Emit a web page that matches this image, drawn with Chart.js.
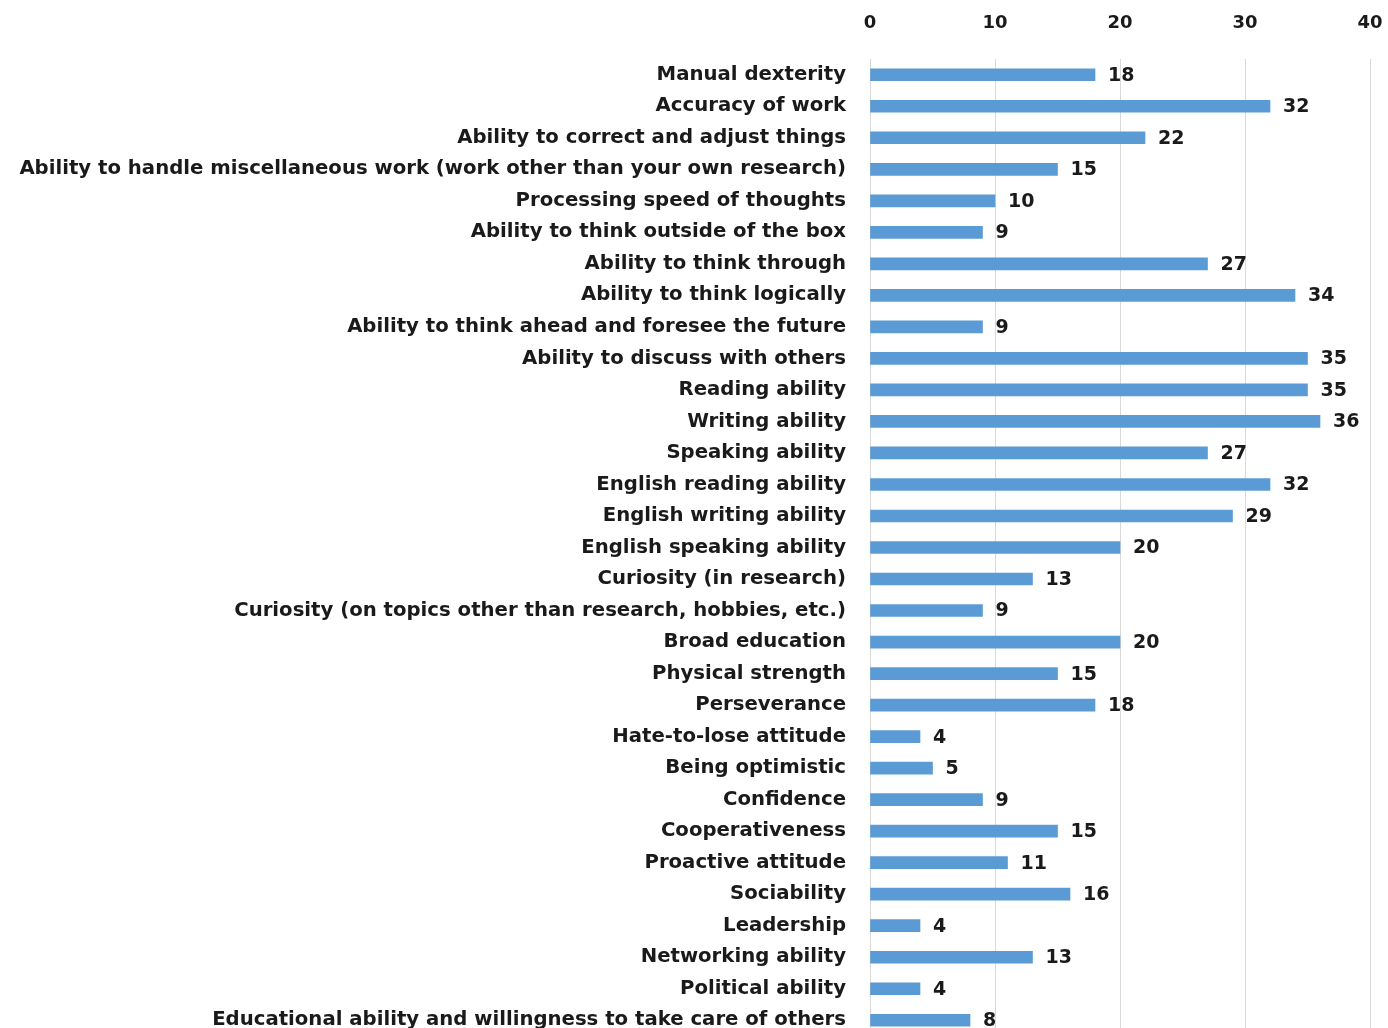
<!DOCTYPE html>
<html>
<head>
<meta charset="utf-8">
<script src="https://cdn.jsdelivr.net/npm/chart.js@4/dist/chart.umd.min.js"></script>
<style>
html,body{margin:0;padding:0;background:#fff;overflow:hidden;}
#wrap{position:relative;width:1388px;height:1042px;}
</style>
</head>
<body>
<div id="wrap"><canvas id="c" width="1388" height="1042"></canvas></div>
<script>
const categories = [
  "Manual dexterity",
  "Accuracy of work",
  "Ability to correct and adjust things",
  "Ability to handle miscellaneous work (work other than your own research)",
  "Processing speed of thoughts",
  "Ability to think outside of the box",
  "Ability to think through",
  "Ability to think logically",
  "Ability to think ahead and foresee the future",
  "Ability to discuss with others",
  "Reading ability",
  "Writing ability",
  "Speaking ability",
  "English reading ability",
  "English writing ability",
  "English speaking ability",
  "Curiosity (in research)",
  "Curiosity (on topics other than research, hobbies, etc.)",
  "Broad education",
  "Physical strength",
  "Perseverance",
  "Hate-to-lose attitude",
  "Being optimistic",
  "Confidence",
  "Cooperativeness",
  "Proactive attitude",
  "Sociability",
  "Leadership",
  "Networking ability",
  "Political ability",
  "Educational ability and willingness to take care of others"
];
const values = [18,32,22,15,10,9,27,34,9,35,35,36,27,32,29,20,13,9,20,15,18,4,5,9,15,11,16,4,13,4,8];
const xTicks = [0,10,20,30,40];

const FONT = "'DejaVu Sans', Verdana, sans-serif";

const valueLabels = {
  id: 'valueLabels',
  afterDatasetsDraw(chart) {
    const ctx = chart.ctx;
    const meta = chart.getDatasetMeta(0);
    ctx.save();
    ctx.font = "bold 19px " + FONT;
    ctx.fillStyle = "#1a1a1a";
    ctx.textAlign = "left";
    ctx.textBaseline = "middle";
    meta.data.forEach((bar, i) => {
      ctx.fillText(String(values[i]), bar.x + 13, bar.y + 1);
    });
    ctx.restore();
  }
};

new Chart(document.getElementById('c'), {
  type: 'bar',
  data: {
    labels: categories,
    datasets: [{
      data: values,
      backgroundColor: '#5B9BD5',
      borderColor: '#5B9BD5',
      borderWidth: 0,
      barThickness: 12
    }]
  },
  options: {
    indexAxis: 'y',
    responsive: false,
    animation: false,
    events: [],
    layout: { padding: { left: 0, right: 18, top: 0, bottom: 6 } },
    plugins: { legend: { display: false }, tooltip: { enabled: false } },
    scales: {
      x: {
        position: 'top',
        min: 0, max: 40,
        afterBuildTicks(scale) { scale.ticks = xTicks.map(v => ({ value: v })); },
        afterFit(scale) {
          scale.height = 59;
          scale.paddingLeft = 0; scale.paddingRight = 0;
          scale.paddingTop = 0; scale.paddingBottom = 0;
        },
        ticks: {
          font: { family: FONT, size: 18, weight: 'bold' },
          color: '#1a1a1a',
          padding: 25,
          maxRotation: 0
        },
        grid: { color: '#d9d9d9', lineWidth: 1, drawTicks: false },
        border: { display: false }
      },
      y: {
        afterFit(scale) {
          scale.width = 870;
          scale.paddingLeft = 0; scale.paddingRight = 0;
          scale.paddingTop = 0; scale.paddingBottom = 0;
        },
        ticks: {
          font: { family: FONT, size: 19.7, weight: 'bold' },
          color: '#1a1a1a',
          padding: 16,
          autoSkip: false
        },
        grid: { display: false },
        border: { display: false }
      }
    }
  },
  plugins: [valueLabels]
});
</script>
</body>
</html>
